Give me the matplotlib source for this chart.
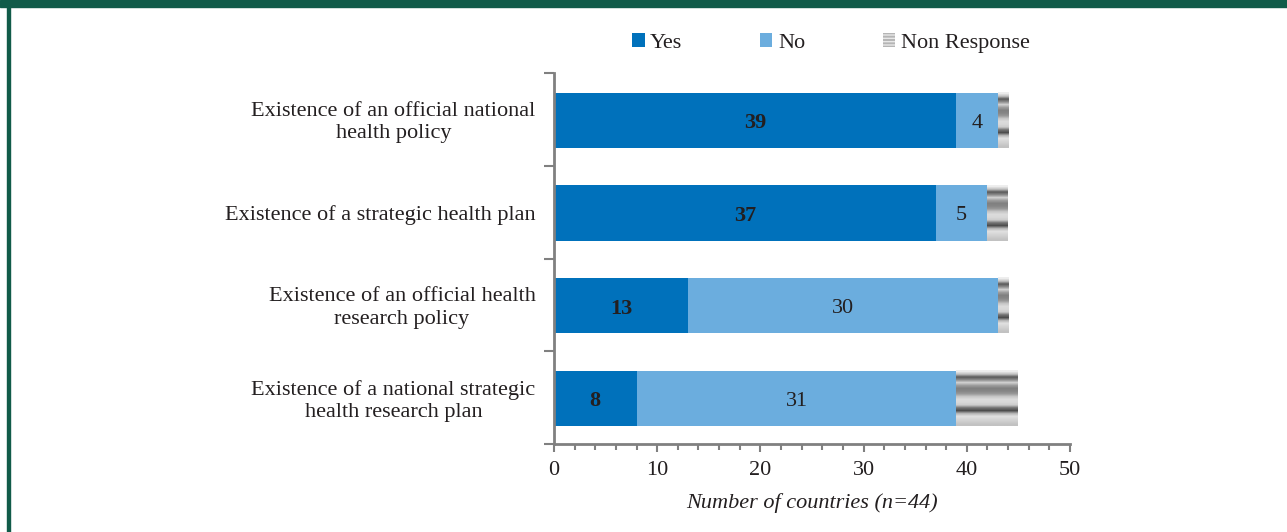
import numpy as np
import matplotlib
matplotlib.use('Agg')
import matplotlib.pyplot as plt
from matplotlib.patches import Rectangle, Patch
from matplotlib.ticker import MultipleLocator

# data
categories = [
    'Existence of an official national\nhealth policy',
    'Existence of a strategic health plan',
    'Existence of an official health\nresearch policy',
    'Existence of a national strategic\nhealth research plan',
]
yes_counts = [39, 37, 13, 8]
no_counts = [4, 5, 30, 31]
nr_counts = [1, 2, 1, 6]

YES_COLOR = '#0071BB'
NO_COLOR = '#6BADDE'
TEXT_COLOR = '#231F20'
AXIS_COLOR = '#808080'
FRAME_COLOR = '#115B49'

# grey stripe texture for "Non Response" (top to bottom)
stripe = [0.93, 0.75, 0.35, 0.55, 0.82, 0.62, 0.50, 0.52, 0.60, 0.78, 0.86,
          0.85, 0.80, 0.45, 0.30, 0.70, 0.88, 0.84, 0.80, 0.76]

plt.rcParams['font.family'] = ['Liberation Serif', 'DejaVu Serif']
plt.rcParams['font.size'] = 16

fig = plt.figure(figsize=(12.87, 5.32), dpi=100)
ax = fig.add_axes([554 / 1287, 1 - 444 / 532, (1070 - 554) / 1287, (444 - 73) / 532])

y = np.arange(len(categories))
h = 0.595
yes = np.array(yes_counts)
no = np.array(no_counts)
nr = np.array(nr_counts)

ax.barh(y + 0.01, yes, height=h, color=YES_COLOR, zorder=2)
ax.barh(y + 0.01, no, left=yes, height=h, color=NO_COLOR, zorder=2)
ax.barh(y + 0.01, nr, left=yes + no, height=h, color='#d0d0d0', zorder=2)

tex = np.array(stripe).reshape(-1, 1)
for yi, l, w in zip(y + 0.01, yes + no, nr):
    ax.imshow(tex, extent=[l, l + w, yi + h / 2, yi - h / 2], aspect='auto',
              cmap='gray', vmin=0, vmax=1, interpolation='bilinear', zorder=3)

# value labels (slightly below centre to sit like the original)
for yi, a, b in zip(y + 0.04, yes, no):
    ax.text(a / 2, yi, str(a), ha='center', va='center', fontweight='bold',
            color=TEXT_COLOR, fontsize=16, zorder=4)
    ax.text(a + b / 2, yi, str(b), ha='center', va='center',
            color=TEXT_COLOR, fontsize=16, zorder=4)

ax.set_xlim(0, 50)
ax.set_ylim(len(categories) - 0.5, -0.5)
ax.xaxis.set_major_locator(MultipleLocator(10))
ax.xaxis.set_minor_locator(MultipleLocator(2))
ax.set_yticks(np.arange(-0.5, len(categories), 1))
ax.set_yticklabels([])
ax.tick_params(axis='y', length=7, width=1.5, color=AXIS_COLOR, direction='out')
ax.tick_params(axis='x', which='major', length=6, width=1.5, color=AXIS_COLOR,
               labelcolor=TEXT_COLOR, pad=6)
ax.tick_params(axis='x', which='minor', length=4, width=1.5, color=AXIS_COLOR)

for yi, lab in zip(y + 0.035, categories):
    ax.text(-0.036, yi, lab, transform=ax.get_yaxis_transform(), ha='right',
            va='center', multialignment='center', linespacing=1.25,
            color=TEXT_COLOR, fontsize=16)

for s in ['top', 'right']:
    ax.spines[s].set_visible(False)
for s in ['left', 'bottom']:
    ax.spines[s].set_color(AXIS_COLOR)
    ax.spines[s].set_linewidth(2)

ax.set_xlabel('Number of countries (n=44)', fontstyle='italic', color=TEXT_COLOR,
              fontsize=16, labelpad=10)

handles = [Patch(facecolor=YES_COLOR, label='Yes'),
           Patch(facecolor=NO_COLOR, label='No'),
           Patch(facecolor='#b5b5b5', edgecolor='#e8e8e8', hatch='-----', lw=0,
                 label='Non Response')]
fig.legend(handles=handles, loc='center', bbox_to_anchor=(831 / 1287, 1 - 43 / 532),
           ncol=3, frameon=False, handlelength=0.55, handleheight=0.55,
           handletextpad=0.25, columnspacing=3.5, fontsize=16, labelcolor=TEXT_COLOR)

# page frame
fig.patches.append(Rectangle((0, 1 - 7 / 532), 1, 7 / 532, transform=fig.transFigure,
                             color=FRAME_COLOR, zorder=0))
fig.patches.append(Rectangle((7 / 1287, 0), 3 / 1287, 1, transform=fig.transFigure,
                             color=FRAME_COLOR, zorder=0))

fig.savefig('out.png', dpi=100)
